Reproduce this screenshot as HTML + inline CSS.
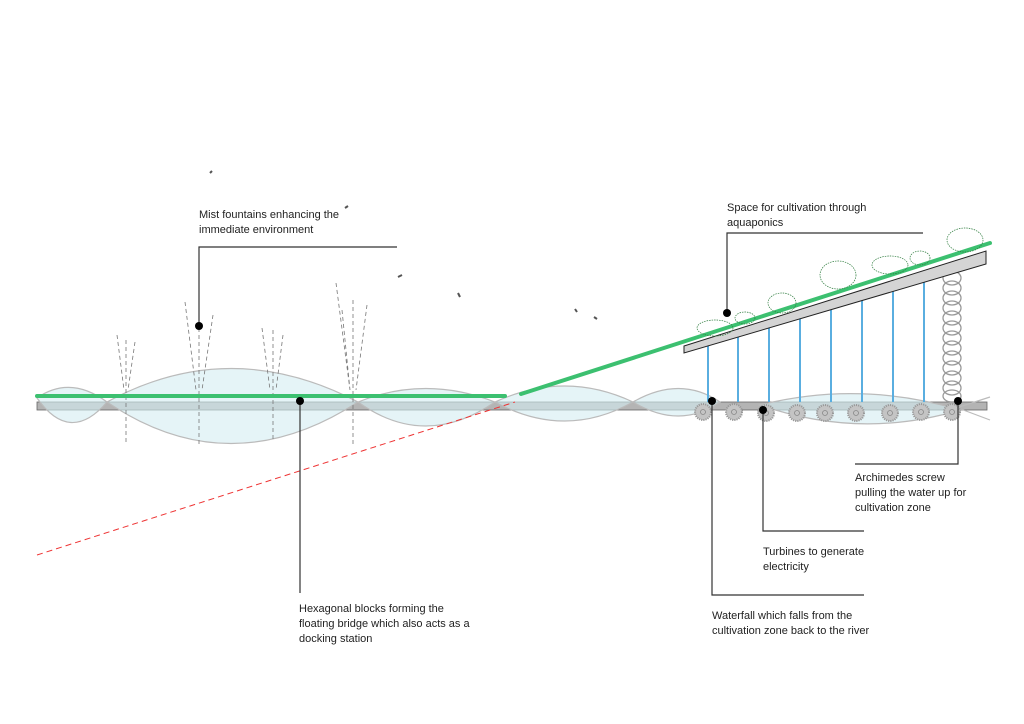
<!DOCTYPE html>
<html><head><meta charset="utf-8"><style>
html,body{margin:0;padding:0;background:#fff;}
svg{display:block;}
text{font-family:"Liberation Sans",sans-serif;font-size:11px;fill:#222;}
</style></head><body>
<svg width="1024" height="724" viewBox="0 0 1024 724" xmlns="http://www.w3.org/2000/svg">
<rect width="1024" height="724" fill="#fff"/>
<!-- bridge -->
<rect x="37" y="402" width="950" height="8" fill="#b4b4b4" stroke="#666" stroke-width="0.8"/>
<!-- water lenses -->
<g fill="#d4ecf1" fill-opacity="0.6" stroke="#bbb" stroke-width="1.2">
<path d="M37,398 Q70,375 107,402 Q70,445 37,398Z"/>
<path d="M107,402 Q230,335 358,402 Q230,485 107,402Z"/>
<path d="M358,402 Q425,375 495,402 Q425,450 358,402Z"/>
<path d="M495,402 Q565,370 633,402 Q565,440 495,402Z"/>
<path d="M633,402 Q680,375 720,402 Q680,430 633,402Z"/>
<path d="M760,405 Q860,380 960,410 Q860,440 760,405Z"/>
</g>
<path d="M950,405 L990,420 M950,410 L990,397" stroke="#bbb" stroke-width="1.2" fill="none"/>
<!-- red dashed -->
<line x1="37" y1="555" x2="515" y2="402" stroke="#e33" stroke-width="1" stroke-dasharray="6,4"/>
<!-- fountains -->
<g stroke="#777" stroke-width="0.8" stroke-dasharray="4,3" fill="none">
<path d="M126,340 V445 M117,335 L124,390 M135,342 L128,390"/>
<path d="M199,300 V445 M185,302 L196,390 M213,315 L202,390"/>
<path d="M273,330 V440 M262,328 L270,390 M283,335 L276,390"/>
<path d="M353,300 V445 M336,283 L350,390 M367,305 L356,390 M342,310 L350,390"/>
</g>
<!-- green walkway -->
<line x1="37" y1="396" x2="505" y2="396" stroke="#3cc070" stroke-width="4" stroke-linecap="round"/>
<line x1="521" y1="394" x2="990" y2="243" stroke="#3cc070" stroke-width="4" stroke-linecap="round"/>
<!-- turbines -->
<g fill="#c4c4c4" stroke="#999" stroke-width="2" stroke-dasharray="1.2,1">
<circle cx="703" cy="412" r="8"/><circle cx="734" cy="412" r="8"/><circle cx="766" cy="413" r="8"/>
<circle cx="797" cy="413" r="8"/><circle cx="825" cy="413" r="8"/><circle cx="856" cy="413" r="8"/>
<circle cx="890" cy="413" r="8"/><circle cx="921" cy="412" r="8"/><circle cx="952" cy="412" r="8"/>
</g>
<g fill="none" stroke="#888" stroke-width="0.8">
<circle cx="703" cy="412" r="2.5"/><circle cx="734" cy="412" r="2.5"/><circle cx="766" cy="413" r="2.5"/>
<circle cx="797" cy="413" r="2.5"/><circle cx="825" cy="413" r="2.5"/><circle cx="856" cy="413" r="2.5"/>
<circle cx="890" cy="413" r="2.5"/><circle cx="921" cy="412" r="2.5"/><circle cx="952" cy="412" r="2.5"/>
</g>
<!-- columns -->
<g stroke-width="2" stroke="#5aaee0">
<line x1="708" y1="345" x2="708" y2="402"/><line x1="738" y1="336" x2="738" y2="402"/>
<line x1="769" y1="326" x2="769" y2="402"/><line x1="800" y1="316" x2="800" y2="402"/>
<line x1="831" y1="306" x2="831" y2="402"/><line x1="862" y1="297" x2="862" y2="402"/>
<line x1="893" y1="287" x2="893" y2="402"/><line x1="924" y1="277" x2="924" y2="402"/>
</g>
<!-- screw -->
<g fill="none" stroke="#999" stroke-width="1.3">
<ellipse cx="952" cy="278" rx="9" ry="7"/><ellipse cx="952" cy="288" rx="9" ry="7"/>
<ellipse cx="952" cy="298" rx="9" ry="7"/><ellipse cx="952" cy="308" rx="9" ry="7"/>
<ellipse cx="952" cy="318" rx="9" ry="7"/><ellipse cx="952" cy="328" rx="9" ry="7"/>
<ellipse cx="952" cy="338" rx="9" ry="7"/><ellipse cx="952" cy="348" rx="9" ry="7"/>
<ellipse cx="952" cy="358" rx="9" ry="7"/><ellipse cx="952" cy="368" rx="9" ry="7"/>
<ellipse cx="952" cy="378" rx="9" ry="7"/><ellipse cx="952" cy="388" rx="9" ry="7"/>
<ellipse cx="952" cy="396" rx="9" ry="6"/>
</g>
<!-- platform -->
<polygon points="684,346 986,251 986,264 684,353" fill="#d4d4d4" stroke="#222" stroke-width="1"/>
<!-- trees -->
<g fill="none" stroke="#2a7a3a" stroke-width="0.7" stroke-dasharray="1.5,1">
<ellipse cx="715" cy="328" rx="18" ry="8"/><ellipse cx="745" cy="318" rx="10" ry="6"/>
<ellipse cx="782" cy="303" rx="14" ry="10"/><ellipse cx="838" cy="275" rx="18" ry="14"/>
<ellipse cx="890" cy="265" rx="18" ry="9"/><ellipse cx="965" cy="240" rx="18" ry="12"/>
<ellipse cx="920" cy="258" rx="10" ry="7"/>
</g>
<!-- callouts -->
<g stroke="#333" stroke-width="1.2" fill="none">
<path d="M397,247 H199 V326"/>
<path d="M923,233 H727 V313"/>
<path d="M300,401 V593"/>
<path d="M712,401 V595 H864"/>
<path d="M763,410 V531 H864"/>
<path d="M958,401 V464 H855"/>
</g>
<g fill="#000">
<circle cx="199" cy="326" r="4"/><circle cx="727" cy="313" r="4"/><circle cx="300" cy="401" r="4"/>
<circle cx="712" cy="401" r="4"/><circle cx="763" cy="410" r="4"/><circle cx="958" cy="401" r="4"/>
</g>
<!-- birds -->
<g stroke="#555" stroke-width="2">
<line x1="210" y1="173" x2="212" y2="171"/><line x1="345" y1="208" x2="348" y2="206"/>
<line x1="398" y1="277" x2="402" y2="275"/><line x1="458" y1="293" x2="460" y2="297"/>
<line x1="575" y1="309" x2="577" y2="312"/><line x1="594" y1="317" x2="597" y2="319"/>
</g>
<text x="199" y="218">Mist fountains enhancing the</text>
<text x="199" y="233">immediate environment</text>
<text x="727" y="211">Space for cultivation through</text>
<text x="727" y="226">aquaponics</text>
<text x="299" y="612">Hexagonal blocks forming the</text>
<text x="299" y="627">floating bridge which also acts as a</text>
<text x="299" y="642">docking station</text>
<text x="712" y="619">Waterfall which falls from the</text>
<text x="712" y="634">cultivation zone back to the river</text>
<text x="763" y="555">Turbines to generate</text>
<text x="763" y="570">electricity</text>
<text x="855" y="481">Archimedes screw</text>
<text x="855" y="496">pulling the water up for</text>
<text x="855" y="511">cultivation zone</text>
</svg>
</body></html>
